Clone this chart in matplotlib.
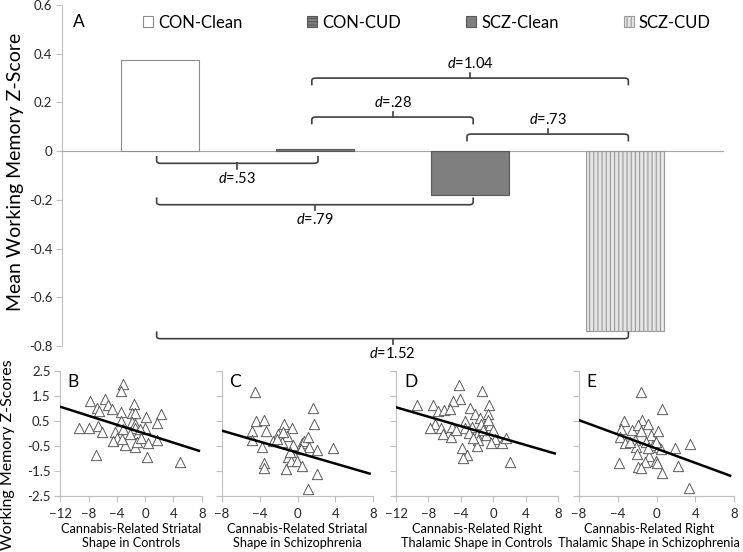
import numpy as np
import matplotlib
matplotlib.use('Agg')
import matplotlib.pyplot as plt
from matplotlib.path import Path
from matplotlib.patches import PathPatch

plt.rcParams['font.family'] = ['Lato', 'DejaVu Sans']
plt.rcParams['mathtext.fontset'] = 'custom'
plt.rcParams['mathtext.rm'] = 'Lato'
plt.rcParams['mathtext.it'] = 'Lato:italic'
plt.rcParams['hatch.linewidth'] = 0.8

# panel A: group means
groups = ['CON-Clean', 'CON-CUD', 'SCZ-Clean', 'SCZ-CUD']
means = [0.375, 0.01, -0.18, -0.74]

# effect size brackets
brk_left = [0, 0, 0, 1, 1, 2]
brk_right = [1, 2, 3, 2, 3, 3]
brk_level = [-0.05, -0.22, -0.77, 0.14, 0.30, 0.07]
brk_label = ['.53', '.79', '1.52', '.28', '1.04', '.73']

# panel B: striatal shape, controls
bx = [-3.08, -3.4, -7.8, -5.7, -6.86, -6.5, -5.3, -4.64, -3.4, -1.58, -1.8, -1.43, 0.12, 2.2,
      1.68, -9.36, -7.94, -6.62, -6.15, -3.4, -1.9, -1.43, -1.5, -0.02, -0.96, -4.26, -3.56,
      -4.0, -4.5, -2.85, -1.5, -1.2, -0.58, 0.45, 1.73, -7.0, 0.31, 4.93, -3.08, -2.14, -3.3, -0.73]
by = [1.96, 1.67, 1.29, 1.36, 1.03, 0.9, 1.14, 0.96, 0.87, 1.19, 0.83, 0.83, 0.66, 0.79,
      0.43, 0.23, 0.23, 0.3, 0.06, 0.5, 0.47, 0.37, 0.21, 0.2, 0.01, 0.04, -0.1,
      -0.19, -0.32, -0.45, -0.56, -0.36, -0.19, -0.4, -0.27, -0.85, -0.96, -1.13, 0.17, -0.03, -0.23, 0.17]
b_fit = (-0.0895, -0.014)

# panel C: striatal shape, schizophrenia
cx = [-4.48, 1.67, -4.41, -3.5, -4.84, -3.32, -1.39, -0.62, 1.77, -2.02, -4.77, -3.78, -2.55,
      -1.85, -1.14, -0.44, 0.51, 0.72, 1.07, 1.21, 2.02, 3.78, 0.37, -0.97, -0.26, -0.69, -0.09,
      -3.5, -3.5, -1.25, 0.51, 2.09, 1.07, -1.67, -0.8, -2.2, -1.5]
cy = [1.66, 1.0, 0.5, 0.54, 0.11, 0.11, 0.39, 0.2, 0.37, -0.03, -0.26, -0.55, -0.32,
      -0.22, -0.09, -0.45, -0.39, -0.29, -0.13, -0.55, -0.66, -0.58, -0.62, -0.95, -0.95, -1.12, -1.12,
      -1.18, -1.37, -1.41, -1.32, -1.61, -2.24, -0.36, -0.75, -0.22, 0.04]
c_fit = (-0.110, -0.77)

# panel D: right thalamic shape, controls
dx = [-4.21, -1.34, -4.13, -4.95, -9.38, -7.41, -6.8, -6.1, -5.36, -2.9, -2.29, -0.52, -0.65,
      -1.67, -3.52, -5.03, -7.2, -7.82, -6.39, -6.18, -5.16, -3.52, -2.57, -1.47, -0.44, -0.03,
      -0.85, -2.0, -2.98, 0.17, -0.24, 1.11, 1.61, -1.88, -3.8, -3.23, -3.72, -2.0, 2.02,
      -4.54, -1.26, -0.65, -2.49]
dy = [1.93, 1.68, 1.39, 1.28, 1.15, 1.12, 0.88, 0.94, 0.98, 1.01, 0.77, 1.12, 0.78,
      0.61, 0.5, 0.27, 0.37, 0.2, 0.23, -0.04, -0.13, 0.2, 0.27, 0.37, 0.34, 0.14,
      -0.07, -0.07, 0.0, -0.23, -0.4, -0.4, -0.17, -0.27, -0.58, -0.87, -0.98, -0.5, -1.14,
      0.14, 0.14, 0.54, -0.2]
d_fit = (-0.094, -0.088)

# panel E: right thalamic shape, schizophrenia
ex = [-1.57, 0.6, -3.39, -1.46, -0.88, -3.63, -2.49, -1.91, -1.57, -0.53, 0.16, -3.8, -3.29,
      -2.25, -2.08, -1.12, -0.36, 0.26, 0.5, 1.88, 3.49, -2.01, -0.77, -1.22, -0.09, 0.0,
      -3.87, -1.91, -1.63, 2.22, 0.57, 3.32, -0.88, -0.02, -2.77]
ey = [1.66, 0.99, 0.5, 0.55, 0.39, 0.19, 0.15, 0.33, 0.1, -0.07, 0.09, -0.16, -0.4,
      -0.27, -0.54, -0.34, -0.47, -0.54, -0.64, -0.58, -0.43, -0.83, -0.91, -1.13, -1.09, -1.17,
      -1.17, -1.36, -1.4, -1.31, -1.6, -2.2, -0.6, -0.34, -0.34]
e_fit = (-0.142, -0.61)

W, H = 743, 552
fig = plt.figure(figsize=(W / 100, H / 100), dpi=100)

axis_gray = '#bfbfbf'
tick_txt = '#262626'

# ---------------- panel A ----------------
ax = fig.add_axes([62 / W, (H - 346) / H, 661 / W, 341 / H])
face = ['white', '#7f7f7f', '#7f7f7f', '#e4e4e4']
edge = ['#8c8c8c', '#595959', '#595959', '#9a9a9a']
hatch = [None, '-----', None, '||||']
bars = ax.bar(range(4), means, width=0.5, color=face, edgecolor=edge, linewidth=0.8,
              label=groups, zorder=3)
for b, h in zip(bars, hatch):
    if h:
        b.set_hatch(h)

ax.set_xlim(-0.63, 3.63)
ax.set_ylim(-0.8, 0.6)
ax.set_yticks(np.arange(-0.8, 0.61, 0.2))
ax.set_yticklabels(['-0.8', '-0.6', '-0.4', '-0.2', '0', '0.2', '0.4', '0.6'])
ax.set_xticks([])
for s in ['top', 'right']:
    ax.spines[s].set_visible(False)
ax.spines['left'].set_color(axis_gray)
ax.spines['bottom'].set_position(('data', 0))
ax.spines['bottom'].set_color('#a6a6a6')
ax.tick_params(axis='y', direction='out', length=4, color=axis_gray, labelsize=9.5,
               labelcolor=tick_txt, pad=3)

leg = ax.legend(bars, groups, ncol=4, loc='upper left', bbox_to_anchor=(0.1225, 0.972),
                frameon=False, fontsize=12, handlelength=0.6, handleheight=0.6,
                handletextpad=0.3, columnspacing=3.9, borderaxespad=0, borderpad=0)
ax.text(0.017, 0.95, 'A', transform=ax.transAxes, fontsize=12.5, va='center', ha='left')

h_end, t_len, dxc = 0.03, 0.022, 0.025
for l, r, lev, lab in zip(brk_left, brk_right, brk_level, brk_label):
    s = -1 if lev < 0 else 1
    x1, x2 = l - 0.02, r + 0.02
    xm = (x1 + x2) / 2
    verts = [(x1, lev - s * h_end), (x1, lev - s * h_end * 0.35), (x1, lev), (x1 + dxc, lev),
             (x2 - dxc, lev), (x2, lev), (x2, lev - s * h_end * 0.35), (x2, lev - s * h_end)]
    codes = [Path.MOVETO, Path.LINETO, Path.CURVE3, Path.CURVE3,
             Path.LINETO, Path.CURVE3, Path.CURVE3, Path.LINETO]
    ax.add_patch(PathPatch(Path(verts, codes), fill=False, edgecolor='#404040', lw=1.2, zorder=4))
    ax.plot([xm, xm], [lev, lev + s * t_len], color='#404040', lw=1.2, zorder=4)
    ax.text(xm, lev + s * (t_len + 0.008), '$d$=' + lab, ha='center',
            va='top' if s < 0 else 'bottom', fontsize=10.5)

fig.text(16 / W, (H - 172) / H, 'Mean Working Memory Z-Score', rotation=90,
         ha='center', va='center', fontsize=14)

# ---------------- panels B-E ----------------
panels = [
    (bx, by, b_fit, -12, 'B', 'Cannabis-Related Striatal\nShape in Controls', 60.3, 201.7),
    (cx, cy, c_fit, -8, 'C', 'Cannabis-Related Striatal\nShape in Schizophrenia', 221.7, 373.4),
    (dx, dy, d_fit, -12, 'D', 'Cannabis-Related Right\nThalamic Shape in Controls', 396, 558),
    (ex, ey, e_fit, -8, 'E', 'Cannabis-Related Right\nThalamic Shape in Schizophrenia', 579, 734),
]
for i, (px, py, fit, lo, letter, xlab, x0, x1p) in enumerate(panels):
    a = fig.add_axes([x0 / W, (H - 496) / H, (x1p - x0) / W, 125.3 / H])
    a.scatter(px, py, marker='^', s=55, facecolor='white', edgecolor='#595959',
              linewidth=0.7, zorder=3)
    xs = np.array([lo, 7.6])
    a.plot(xs, fit[1] + fit[0] * xs, color='black', lw=1.8, zorder=4)
    a.set_xlim(lo, 8)
    a.set_ylim(-2.5, 2.5)
    a.set_xticks(np.arange(lo, 8.1, 4))
    a.set_yticks([-2.5, -1.5, -0.5, 0.5, 1.5, 2.5])
    if i == 0:
        a.set_yticklabels(['-2.5', '-1.5', '-0.5', '0.5', '1.5', '2.5'])
    else:
        a.set_yticklabels([])
    for s in ['top', 'right']:
        a.spines[s].set_visible(False)
    for s in ['left', 'bottom']:
        a.spines[s].set_color(axis_gray)
    a.tick_params(direction='out', length=4, color=axis_gray, labelsize=9.5,
                  labelcolor=tick_txt, pad=3)
    a.tick_params(axis='x', pad=5)
    a.text(0.05, 0.91, letter, transform=a.transAxes, fontsize=12.5, va='center', ha='left')
    a.set_xlabel(xlab, fontsize=9.1, labelpad=2, linespacing=1.2)
    if i == 3:
        a.xaxis.label.set_x(0.45)

fig.text(8 / W, (H - 455) / H, 'Working Memory Z-Scores', rotation=90,
         ha='center', va='center', fontsize=11.5)

fig.savefig('out.png', dpi=100)
